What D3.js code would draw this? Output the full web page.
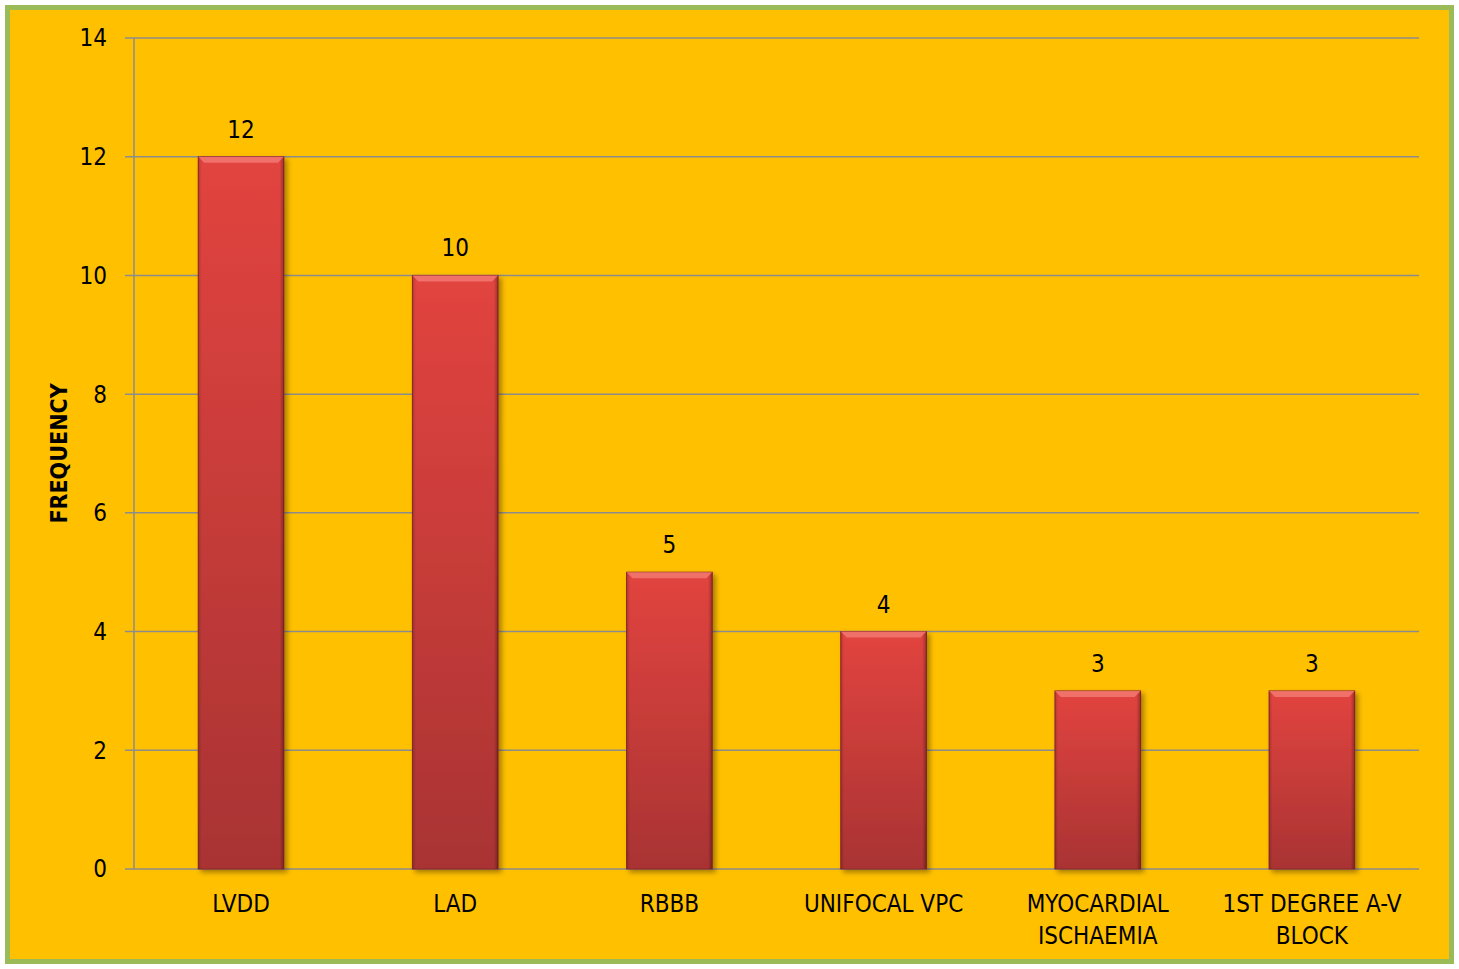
<!DOCTYPE html>
<html>
<head>
<meta charset="utf-8">
<script src="https://cdn.jsdelivr.net/npm/d3@7"></script>
<style>
  body { margin: 0; background: #fff; }
  svg text { font-family: "Liberation Sans Narrow", "Arial Narrow", "DejaVu Sans Condensed", sans-serif; fill: #000; }
</style>
</head>
<body>
<svg id="chart"></svg>
<script>
const width = 1459;
const height = 969;

const categories = ['LVDD', 'LAD', 'RBBB', 'UNIFOCAL VPC', 'MYOCARDIAL ISCHAEMIA', '1ST DEGREE A-V BLOCK'];
const labelLines = [['LVDD'], ['LAD'], ['RBBB'], ['UNIFOCAL VPC'], ['MYOCARDIAL', 'ISCHAEMIA'], ['1ST DEGREE A-V', 'BLOCK']];
const frequency = [12, 10, 5, 4, 3, 3];
const yTicks = [0, 2, 4, 6, 8, 10, 12, 14];

const margin = { left: 134, right: 40, top: 38, bottom: 100 };

const svg = d3.select('#chart')
  .attr('width', width)
  .attr('height', height);

// background with green frame
svg.append('rect')
  .attr('x', 7.5).attr('y', 7.5)
  .attr('width', width - 15).attr('height', height - 15)
  .attr('fill', '#FFC000')
  .attr('stroke', '#9BBB59')
  .attr('stroke-width', 5);

const defs = svg.append('defs');
const grad = defs.append('linearGradient')
  .attr('id', 'barFill')
  .attr('x1', 0).attr('y1', 0).attr('x2', 0).attr('y2', 1);
grad.append('stop').attr('offset', '0%').attr('stop-color', '#E2443F');
grad.append('stop').attr('offset', '100%').attr('stop-color', '#A93333');

const side = defs.append('linearGradient')
  .attr('id', 'barSide')
  .attr('x1', 0).attr('y1', 0).attr('x2', 1).attr('y2', 0);
side.append('stop').attr('offset', '0%').attr('stop-color', '#000').attr('stop-opacity', 0.18);
side.append('stop').attr('offset', '4%').attr('stop-color', '#000').attr('stop-opacity', 0);
side.append('stop').attr('offset', '95%').attr('stop-color', '#000').attr('stop-opacity', 0);
side.append('stop').attr('offset', '100%').attr('stop-color', '#000').attr('stop-opacity', 0.3);

const filter = defs.append('filter').attr('id', 'shadow')
  .attr('x', '-20%').attr('y', '-10%').attr('width', '140%').attr('height', '120%');
filter.append('feDropShadow')
  .attr('dx', 3).attr('dy', 3).attr('stdDeviation', 2.5)
  .attr('flood-color', '#000').attr('flood-opacity', 0.35);

const x = d3.scaleBand()
  .domain(categories)
  .range([margin.left, width - margin.right])
  .paddingInner(0.6)
  .paddingOuter(0.3);

const y = d3.scaleLinear()
  .domain([0, 14])
  .range([height - margin.bottom, margin.top]);

// gridlines
svg.append('g')
  .selectAll('line')
  .data(yTicks)
  .join('line')
  .attr('x1', margin.left - 9)
  .attr('x2', width - margin.right)
  .attr('y1', d => y(d))
  .attr('y2', d => y(d))
  .attr('stroke', '#8C8C8C')
  .attr('stroke-width', 1.5);

// y axis
svg.append('line')
  .attr('x1', margin.left).attr('x2', margin.left)
  .attr('y1', y(14)).attr('y2', y(0))
  .attr('stroke', '#8C8C8C')
  .attr('stroke-width', 1.5);

svg.append('g')
  .selectAll('text')
  .data(yTicks)
  .join('text')
  .attr('x', margin.left - 27)
  .attr('y', d => y(d))
  .attr('dy', '0.35em')
  .attr('text-anchor', 'end')
  .attr('font-size', 24)
  .text(d => d);

// bars
const bars = svg.append('g')
  .selectAll('g')
  .data(frequency)
  .join('g')
  .attr('filter', 'url(#shadow)');

bars.append('rect')
  .attr('x', (d, i) => x(categories[i]))
  .attr('y', d => y(d))
  .attr('width', x.bandwidth())
  .attr('height', d => y(0) - y(d))
  .attr('fill', 'url(#barFill)')
  .attr('stroke', '#8E2A2A')
  .attr('stroke-width', 1);

bars.append('rect')
  .attr('x', (d, i) => x(categories[i]))
  .attr('y', d => y(d))
  .attr('width', x.bandwidth())
  .attr('height', d => y(0) - y(d))
  .attr('fill', 'url(#barSide)');

// top bevel highlight
bars.append('path')
  .attr('d', (d, i) => {
    const x0 = x(categories[i]), x1 = x0 + x.bandwidth(), t = y(d);
    return `M${x0},${t}L${x1},${t}L${x1 - 6},${t + 6}L${x0 + 6},${t + 6}Z`;
  })
  .attr('fill', '#F47A76')
  .attr('opacity', 0.8);

// value labels
svg.append('g')
  .selectAll('text')
  .data(frequency)
  .join('text')
  .attr('x', (d, i) => x(categories[i]) + x.bandwidth() / 2)
  .attr('y', d => y(d) - 19)
  .attr('text-anchor', 'middle')
  .attr('font-size', 24)
  .text(d => d);

// category labels
svg.append('g')
  .selectAll('text')
  .data(labelLines)
  .join('text')
  .attr('x', (d, i) => x(categories[i]) + x.bandwidth() / 2)
  .attr('y', y(0) + 43)
  .attr('text-anchor', 'middle')
  .attr('font-size', 24)
  .each(function (lines) {
    d3.select(this).selectAll('tspan')
      .data(lines)
      .join('tspan')
      .attr('x', d3.select(this).attr('x'))
      .attr('dy', (l, j) => j === 0 ? 0 : 32)
      .text(l => l);
  });

// y title
svg.append('text')
  .attr('transform', `translate(67, ${(y(0) + y(14)) / 2}) rotate(-90)`)
  .attr('text-anchor', 'middle')
  .attr('font-size', 23)
  .attr('font-weight', 'bold')
  .text('FREQUENCY');
</script>
</body>
</html>
